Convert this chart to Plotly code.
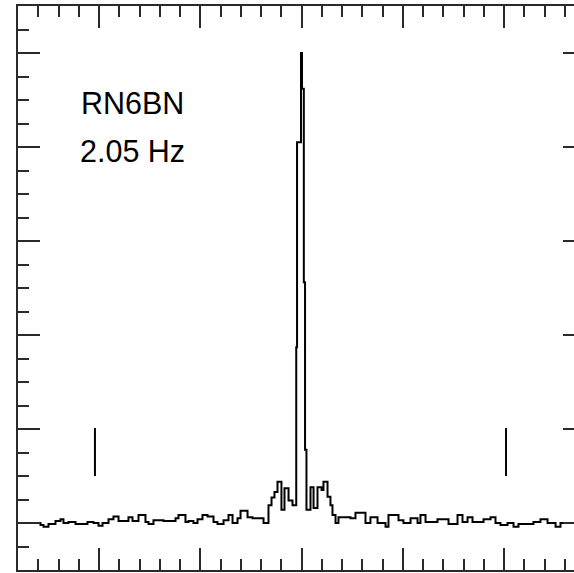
import plotly.graph_objects as go

# Spectrum (step trace): frequency positions (axis units) and amplitudes
freq = [0.314, 0.422, 0.452, 0.501, 0.570, 0.620, 0.649, 0.699, 0.768, 0.886,
        0.946, 0.995, 1.035, 1.094, 1.143, 1.193, 1.291, 1.331, 1.390, 1.459,
        1.489, 1.538, 1.637, 1.756, 1.785, 1.854, 1.884, 1.933, 1.973, 2.022,
        2.072, 2.131, 2.170, 2.230, 2.279, 2.319, 2.368, 2.398, 2.467, 2.516,
        2.625, 2.674, 2.704, 2.733, 2.763, 2.802, 2.832, 2.872, 2.911, 2.948,
        2.956, 2.995, 3.005, 3.023, 3.035, 3.049, 3.089, 3.119, 3.158, 3.198,
        3.217, 3.257, 3.286, 3.306, 3.336, 3.365, 3.484, 3.533, 3.632, 3.681,
        3.751, 3.830, 3.859, 3.958, 4.007, 4.077, 4.146, 4.175, 4.225, 4.343,
        4.452, 4.541, 4.590, 4.640, 4.689, 4.798, 4.867, 4.916, 4.965, 5.035,
        5.094, 5.143, 5.291, 5.360, 5.430, 5.509, 5.558, 5.850]
amplitude = [0.00, -0.02, -0.04, -0.01, 0.02, 0.04, 0.00, 0.01, -0.01, 0.01,
             0.00, -0.03, 0.00, 0.04, 0.07, 0.02, 0.06, 0.02, 0.085, 0.01,
             -0.01, 0.03, 0.02, 0.05, 0.085, 0.01, 0.02, 0.00, 0.04, 0.085,
             0.07, 0.01, -0.01, 0.03, 0.085, 0.00, 0.05, 0.13, 0.06, 0.05,
             0.00, 0.19, 0.27, 0.33, 0.44, 0.14, 0.37, 0.24, 0.19, 1.87,
             4.05, 5.00, 4.62, 2.56, 0.78, 0.14, 0.38, 0.16, 0.38, 0.35,
             0.44, 0.28, 0.19, 0.085, 0.00, 0.06, 0.05, 0.11, 0.00, 0.06,
             0.00, -0.04, 0.085, 0.03, 0.00, 0.05, 0.00, 0.085, 0.01, 0.04,
             -0.01, 0.085, 0.01, 0.06, 0.01, 0.04, 0.06, 0.00, -0.02, 0.00,
             -0.04, -0.01, 0.01, 0.04, 0.00, -0.04, 0.00, 0.00]

# Vertical marker lines
marker_x = [0.96, 5.02]
marker_y = [0.50, 1.01]

labels = ["RN6BN", "2.05 Hz"]
label_x = [0.812, 0.802]
label_y = [4.47, 3.96]

fig = go.Figure()
fig.add_trace(go.Scatter(x=freq, y=amplitude, mode="lines", line_shape="hv",
                         line=dict(color="black", width=2), hoverinfo="skip"))
for mx in marker_x:
    fig.add_trace(go.Scatter(x=[mx, mx], y=marker_y, mode="lines",
                             line=dict(color="black", width=2), hoverinfo="skip"))

for t, lx, ly in zip(labels, label_x, label_y):
    fig.add_annotation(x=lx, y=ly, text=t, showarrow=False, xanchor="left",
                       yanchor="middle", borderpad=0,
                       font=dict(family="Liberation Sans, Arial, sans-serif", size=30.5, color="black"))

axis_common = dict(showline=True, linecolor="#2a2a2a", linewidth=2, mirror="ticks",
                   ticks="inside", ticklen=22, tickwidth=2, tickcolor="#2a2a2a",
                   showticklabels=False, showgrid=False, zeroline=False)
fig.update_xaxes(range=[0.2, 5.8], tick0=0, dtick=1,
                 minor=dict(dtick=0.2, ticks="inside", ticklen=11, tickwidth=2,
                            tickcolor="#2a2a2a", showgrid=False),
                 **axis_common)
fig.update_yaxes(range=[-0.5, 5.5], tick0=0, dtick=1,
                 minor=dict(dtick=0.25, ticks="inside", ticklen=11, tickwidth=2,
                            tickcolor="#2a2a2a", showgrid=False),
                 **axis_common)
fig.update_layout(width=590, height=573, margin=dict(l=18, r=5, t=6, b=3),
                  paper_bgcolor="white", plot_bgcolor="white", showlegend=False)
fig.write_html("out.html")
